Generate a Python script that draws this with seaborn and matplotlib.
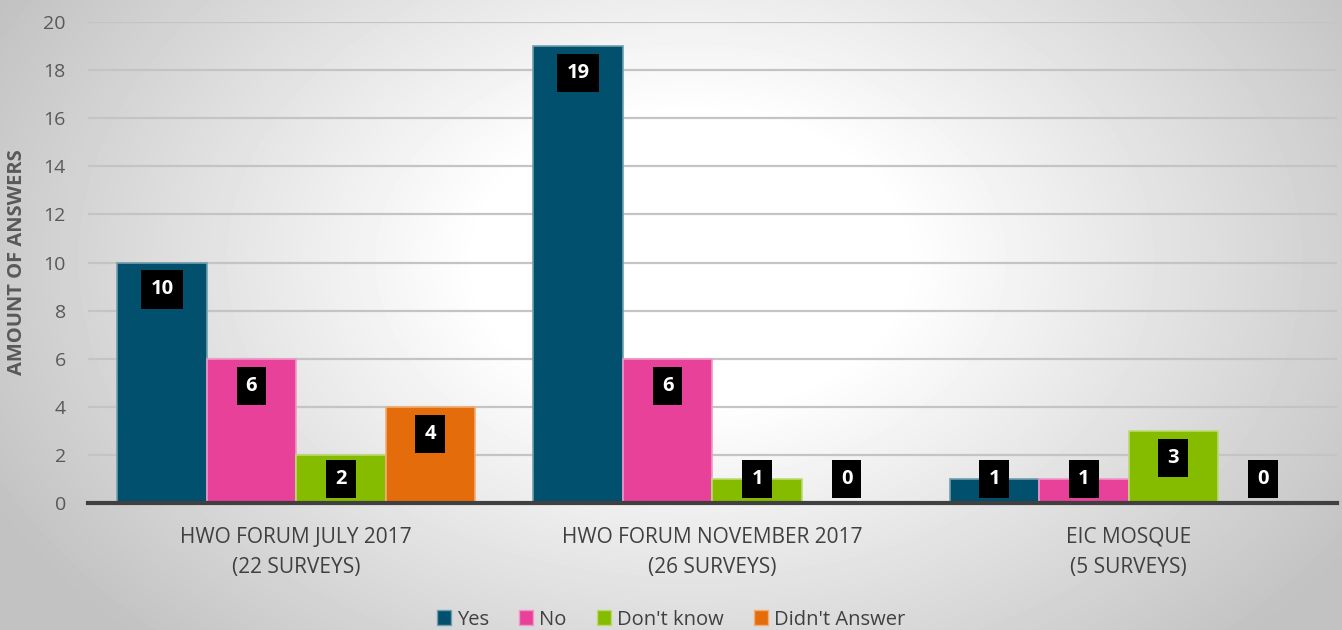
import numpy as np
import pandas as pd
import matplotlib
matplotlib.use("Agg")
import matplotlib.pyplot as plt
import matplotlib.colors as mcolors
from matplotlib.patches import Patch
import seaborn as sns

# ---- data ----
categories = ["HWO FORUM JULY 2017\n(22 SURVEYS)",
              "HWO FORUM NOVEMBER 2017\n(26 SURVEYS)",
              "EIC MOSQUE\n(5 SURVEYS)"]
answers = ["Yes", "No", "Don't know", "Didn't Answer"]
yes_vals = [10, 19, 1]
no_vals = [6, 6, 1]
dontknow_vals = [2, 1, 3]
didnt_vals = [4, 0, 0]
yticks = [0, 2, 4, 6, 8, 10, 12, 14, 16, 18, 20]
ylabel = "AMOUNT OF ANSWERS"

colors = ["#00506E", "#E8419A", "#86BC00", "#E46C0A"]

series = [yes_vals, no_vals, dontknow_vals, didnt_vals]
rows = []
for ans, vals in zip(answers, series):
    for cat, v in zip(categories, vals):
        rows.append({"Category": cat, "Answer": ans, "Count": v})
df = pd.DataFrame(rows)

sns.set_theme(style="white")
plt.rcParams["font.family"] = ["Open Sans", "DejaVu Sans"]

fig = plt.figure(figsize=(13.42, 6.3), dpi=100)

# background radial gradient
bg = fig.add_axes([0, 0, 1, 1], zorder=-10)
W, H = 1342, 630
yy, xx = np.mgrid[0:H, 0:W]
r = np.sqrt(((xx - 690) / 760.0) ** 2 + ((yy - 260) / 520.0) ** 2)
g = 1.0 - 0.24 * np.clip((r - 0.28) / 0.75, 0, 1)
bg.imshow(g, cmap="gray", vmin=0, vmax=1, aspect="auto", extent=[0, 1, 0, 1], interpolation="bilinear")
bg.axis("off")

ax = fig.add_axes([0.0656, 0.2016, 0.9304, 0.7634])
ax.patch.set_alpha(0)

sns.barplot(data=df, x="Category", y="Count", hue="Answer", hue_order=answers,
            order=categories, palette=colors, width=0.86, ax=ax, saturation=1,
            legend=False, zorder=3)

# bar edges lighter
for cont, c in zip(ax.containers, colors):
    light = tuple(np.array(mcolors.to_rgb(c)) * 0.55 + 0.45)
    for p in cont:
        p.set_edgecolor(light)
        p.set_linewidth(1.2)

ax.set_ylim(0, 20)
ax.set_xlim(-0.5, 2.5)
ax.set_yticks(yticks)
ax.yaxis.grid(True, color="#c4c4c4", linewidth=1.6, zorder=0)
ax.set_axisbelow(True)
for s in ["top", "right", "left"]:
    ax.spines[s].set_visible(False)
ax.spines["bottom"].set_color("#404040")
ax.spines["bottom"].set_linewidth(3)
ax.spines["bottom"].set_zorder(5)

ax.tick_params(axis="y", length=0, labelsize=14, labelcolor="#595959", pad=16)
ax.tick_params(axis="x", length=0, labelsize=15, labelcolor="#404040", pad=17)
for t in ax.get_xticklabels():
    t.set_linespacing(1.6)
ax.set_xlabel("")
ax.set_ylabel(ylabel, fontsize=14.5, fontweight="bold", color="#595959", labelpad=12)

# value labels
for cont, vals in zip(ax.containers, series):
    for p, v in zip(cont, vals):
        x = p.get_x() + p.get_width() / 2
        y = max(v - 1.12, 1.0)
        ax.text(x, y, f"{v}", ha="center", va="center", color="white",
                fontsize=14.5, fontweight="bold", zorder=6,
                bbox=dict(boxstyle="square,pad=0.45", facecolor="black", edgecolor="none"))

handles = [Patch(facecolor=c, edgecolor=tuple(np.array(mcolors.to_rgb(c)) * 0.55 + 0.45)) for c in colors]
fig.legend(handles, answers, loc="lower center", bbox_to_anchor=(0.5, -0.028), ncol=4,
           frameon=False, fontsize=14.5, handlelength=0.7, handleheight=0.7,
           handletextpad=0.3, columnspacing=1.5, labelcolor="#404040")

fig.savefig("out.png", dpi=100)
